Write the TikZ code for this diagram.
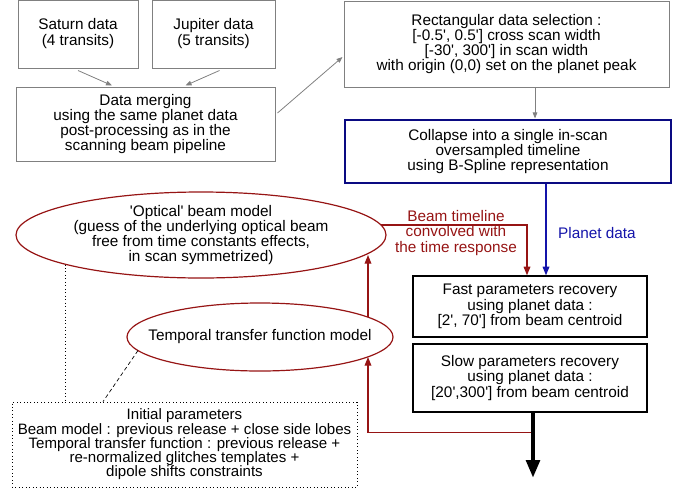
\documentclass[tikz,border=0pt]{standalone}
\usepackage{fontspec}
\setmainfont{Liberation Sans}[Ligatures=TeXOff]
\usetikzlibrary{arrows.meta,calc,shapes.geometric}
\definecolor{dred}{RGB}{150,20,20}
\definecolor{dblue}{RGB}{20,20,170}
\definecolor{navy}{RGB}{10,10,130}
\definecolor{gbord}{RGB}{128,128,128}
\tikzset{
  txt/.style={font=\fontsize{11.5}{11.4}\selectfont, align=center, inner sep=0pt},
  greybox/.style={txt, draw=gbord, line width=0.75pt},
  bluebox/.style={txt, draw=navy, line width=0.9pt},
  blackbox/.style={txt, draw=black, line width=1pt},
  redell/.style={txt, ellipse, draw=dred, line width=0.9pt, inner xsep=-30pt, inner ysep=-10pt},
  greyarr/.style={draw=gbord, line width=0.6pt, -{Triangle[length=4.5pt,width=3.5pt]}},
  redarr/.style={draw=dred, line width=0.9pt, -{Triangle[length=6.5pt,width=5pt]}},
  bluearr/.style={draw=dblue, line width=0.9pt, -{Triangle[length=6.5pt,width=5pt]}},
  thickarr/.style={draw=black, line width=3.6pt, -{Triangle[length=13.5pt,width=10pt]}},
}
\begin{document}
\begin{tikzpicture}[x=0.75pt, y=-0.75pt]
\useasboundingbox (0,0) rectangle (692,493);

\node[greybox, minimum width=90pt, minimum height=51pt, font=\fontsize{11.5}{12}\selectfont] (sat) at (78,34) {Saturn data\\(4 transits)};
\node[greybox, minimum width=92.25pt, minimum height=51pt, font=\fontsize{11.5}{12}\selectfont] (jup) at (213.5,34) {Jupiter data\\(5 transits)};
\node[greybox, minimum width=194.25pt, minimum height=55.5pt] (merge) at (145.5,124) {Data merging\\using the same planet data\\post-processing as in the\\scanning beam pipeline};
\node[greybox, minimum width=243.75pt, minimum height=64.5pt] (rect) at (506.5,44) {Rectangular data selection :\\{}[-0.5', 0.5'] cross scan width\\{}[-30', 300'] in scan width\\with origin (0,0) set on the planet peak};
\node[bluebox, minimum width=244.5pt, minimum height=47.25pt] (coll) at (508,151.5) {Collapse into a single in-scan\\oversampled timeline\\using B-Spline representation};
\node[blackbox, minimum width=175.5pt, minimum height=45.75pt] (fast) at (530,306.5) {Fast parameters recovery\\using planet data :\\{}[2', 70'] from beam centroid};
\node[blackbox, minimum width=175.5pt, minimum height=51pt] (slow) at (530,378) {Slow parameters recovery\\using planet data :\\{}[20',300'] from beam centroid};
\node[redell, minimum width=277.5pt, minimum height=64.5pt] (opt) at (201,235) {'Optical' beam model\\(guess of the underlying optical beam\\free from time constants effects,\\in scan symmetrized)};
\node[redell, minimum width=199.5pt, minimum height=51pt] (temp) at (260,337) {Temporal transfer function model};
\node[txt, draw=black, line width=0.6pt, dotted, minimum width=258.75pt, minimum height=63.75pt,
      font=\fontsize{11.3}{10.7}\selectfont] (init) at (184.5,444.5) {Initial parameters\\Beam model : previous release + close side lobes\\Temporal transfer function : previous release +\\re-normalized glitches templates +\\dipole shifts constraints};

\node[txt, text=dred, font=\fontsize{11.5}{11.9}\selectfont] (lblbeam) at (456,233) {Beam timeline\\convolved with\\the time response};
\node[txt, text=dblue] (lblplanet) at (597,233) {Planet data};

\coordinate (out) at (533,478);

% grey arrows
\draw[greyarr] ($(sat.south)+(0,2)$) -- ($(merge.north)+(-33.5,-1)$);
\draw[greyarr] ($(jup.south)+(6,2)$) -- ($(merge.north)+(40,-1)$);
\draw[greyarr] ($(merge.east)+(2,-11)$) -- ($(rect.west)+(-1,13)$);
\draw[greyarr] ($(rect.south)+(28.5,0)$) -- ($(coll.north)+(27,-1)$);

% blue
\draw[bluearr] ($(coll.south)+(38,0)$) -- ($(fast.north)+(16,0)$);

% red
\draw[redarr] ($(opt.center)+(180,-10)$) -| ($(fast.north)+(-3,0)$);
\draw[redarr] ($(temp.center)+(108,-19.9)$) -- ($(opt.center)+(167,20)$);
\draw[redarr] ($(slow.south)+(3,20)$) -| ($(temp.center)+(108,20)$);

% thick output
\draw[thickarr] ($(slow.south)+(3,0)$) -- (out);

% dotted links
\draw[black, line width=0.6pt, dotted] ($(opt.center)+(-136,29.5)$) -- (init.north -| 65,0);
\draw[black, line width=0.5pt, densely dashed] ($(temp.center)+(-122,13.5)$) -- ($(init.north)+(-81.5,0)$);
\end{tikzpicture}
\end{document}
